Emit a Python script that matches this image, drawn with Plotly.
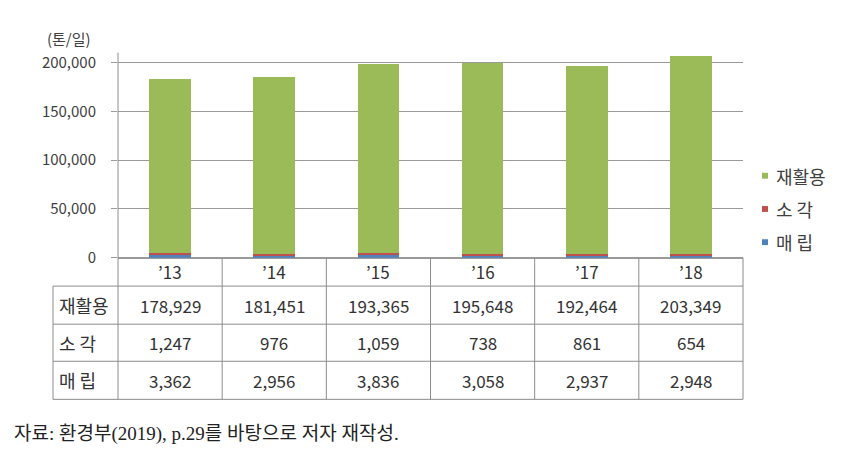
import plotly.graph_objects as go

years = ["’13", "’14", "’15", "’16", "’17", "’18"]
series_names = ["재활용", "소 각", "매 립"]
recycle = [178929, 181451, 193365, 195648, 192464, 203349]
incinerate = [1247, 976, 1059, 738, 861, 654]
landfill = [3362, 2956, 3836, 3058, 2937, 2948]
colors = {"재활용": "#9BBB59", "소 각": "#C0504D", "매 립": "#4F81BD"}
y_ticks = [0, 50000, 100000, 150000, 200000]

W, H = 858, 464
def px(x):
    return x / W
def py(y):
    return 1 - y / H

X0, X1 = 118, 743
Y_TOP, Y_ZERO = 52, 262
TABLE_LEFT = 53
ROW_Y = [262, 291, 330, 368, 407]

FONT = "Noto Sans CJK KR"
TXT = "#404040"
GRID = "#9a9a9a"
LINE = "#8c8c8c"

fig = go.Figure()
# stacked bars: bottom to top
for name, vals in [("매 립", landfill), ("소 각", incinerate), ("재활용", recycle)]:
    fig.add_trace(go.Bar(x=years, y=vals, name=name, marker_color=colors[name],
                         marker_line_width=0, width=0.4, showlegend=False))

shapes = []
annotations = []

def ann(x, y, text, size, color="#333333", xref="paper", xanchor="center", family=FONT):
    annotations.append(dict(x=x, xref=xref, xanchor=xanchor, y=y, yref="paper", yanchor="middle",
                            text=text, showarrow=False, font=dict(family=family, size=size, color=color)))

# table lines
def hline(y, xa, xb):
    shapes.append(dict(type="line", xref="paper", yref="paper", x0=px(xa), x1=px(xb),
                       y0=py(y), y1=py(y), line=dict(color=LINE, width=1)))
def vline(x, ya, yb, color=LINE):
    shapes.append(dict(type="line", xref="paper", yref="paper", x0=px(x), x1=px(x),
                       y0=py(ya), y1=py(yb), line=dict(color=color, width=1)))

for y in ROW_Y[1:]:
    hline(y, TABLE_LEFT, X1)
vline(TABLE_LEFT, ROW_Y[1], ROW_Y[-1])
vline(X0, Y_TOP, ROW_Y[-1])
for i in range(1, len(years)):
    shapes.append(dict(type="line", xref="x", yref="paper", x0=i - 0.5, x1=i - 0.5,
                       y0=py(ROW_Y[0]), y1=py(ROW_Y[-1]), line=dict(color=LINE, width=1)))
vline(X1, ROW_Y[0], ROW_Y[-1])

# table text
row_vals = [recycle, incinerate, landfill]
for i, yr in enumerate(years):
    ann(yr, py((ROW_Y[0] + ROW_Y[1]) / 2), yr, 17, xref="x")
    for r, vals in enumerate(row_vals):
        ann(yr, py((ROW_Y[r + 1] + ROW_Y[r + 2]) / 2), f"{vals[i]:,}", 17, xref="x")
for r, name in enumerate(series_names):
    ann(px(57), py((ROW_Y[r + 1] + ROW_Y[r + 2]) / 2), name, 18, xanchor="left")

# legend (manual)
leg_y = [178, 212, 246]
for name, ly in zip(series_names, leg_y):
    shapes.append(dict(type="rect", xref="paper", yref="paper", x0=px(762), x1=px(768),
                       y0=py(ly - 3), y1=py(ly + 3), fillcolor=colors[name], line=dict(width=0)))
    ann(px(774), py(ly), name, 18, color=TXT, xanchor="left")

# y axis title
ann(px(69), py(37), "(톤/일)", 15, color=TXT)
# source caption
ann(px(12), py(442), "자료: 환경부(2019), p.29를 바탕으로 저자 재작성.", 19, color="#222222",
    xanchor="left", family="Liberation Serif, Noto Sans CJK KR")

fig.update_layout(
    width=W, height=H, margin=dict(l=0, r=0, t=0, b=0),
    paper_bgcolor="white", plot_bgcolor="white",
    barmode="stack", showlegend=False,
    shapes=shapes, annotations=annotations,
    xaxis=dict(domain=[px(X0), px(X1)], range=[-0.5, len(years) - 0.5], showticklabels=False,
               showgrid=False, zeroline=False, showline=False, ticks=""),
    yaxis=dict(domain=[py(Y_ZERO), py(Y_TOP)], range=[0, 210000], tickvals=y_ticks,
               tickformat=",", ticks="outside", ticklen=6, tickcolor=GRID,
               showgrid=True, gridcolor=GRID, gridwidth=1, zeroline=True, zerolinecolor=GRID,
               showline=False, tickfont=dict(family=FONT, size=15, color=TXT), ticklabelstandoff=12),
)

fig.write_html("out.html")
